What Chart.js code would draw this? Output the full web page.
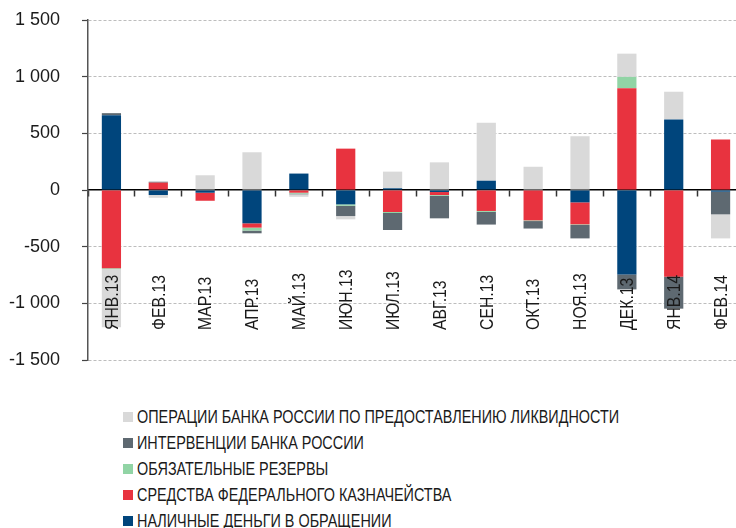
<!DOCTYPE html>
<html>
<head>
<meta charset="utf-8">
<script src="https://cdn.jsdelivr.net/npm/chart.js@4.4.0/dist/chart.umd.min.js"></script>
<style>
  body { margin: 0; background: #fff; overflow: hidden; width: 736px; height: 528px; position: relative; }
  #wrap { position: absolute; left: 0; top: 0; width: 744px; height: 380px; }
  #legend { position: absolute; left: 123px; top: 404px; margin: 0; padding: 0; list-style: none;
    font-family: 'Liberation Sans', Arial, sans-serif; font-size: 18px; color: #1a1a1a; }
  #legend li { height: 26px; display: flex; align-items: center; white-space: nowrap; }
  #legend .sw { display: inline-block; width: 10px; height: 10px; margin-right: 4px; flex: none; }
  #legend .tx { display: inline-block; transform: scaleX(0.8); transform-origin: 0 50%; }
</style>
</head>
<body>
<div id="wrap"><canvas id="flows"></canvas></div>
<ul id="legend"></ul>
<script>
var FONT = "'Liberation Sans', Arial, sans-serif";

var months = ['ЯНВ.13', 'ФЕВ.13', 'МАР.13', 'АПР.13', 'МАЙ.13', 'ИЮН.13', 'ИЮЛ.13',
              'АВГ.13', 'СЕН.13', 'ОКТ.13', 'НОЯ.13', 'ДЕК.13', 'ЯНВ.14', 'ФЕВ.14'];

// млрд руб.
var cash          = [660, -44, -24, -294, 145, -127, 15, -18, 82, 0, -109, -745, 623, -15];
var treasury      = [-691, 65, -71, -38, -24, 365, -194, -26, -185, -268, -194, 898, -765, 445];
var reserves      = [-8, 0, 0, -26, -8, -12, -9, -6, -8, -6, -6, 100, 0, 0];
var interventions = [18, 8, 0, -24, -6, -91, -150, -200, -112, -66, -118, -132, -282, -200];
var liquidity     = [-512, -25, 130, 333, -22, -29, 147, 244, 512, 205, 475, 205, 244, -212];

var yTicks = [-1500, -1000, -500, 0, 500, 1000, 1500];
var labelBase = -1235; // где начинаются подписи месяцев

function fmt(v) {
    var s = String(Math.abs(v)).replace(/\B(?=(\d{3})+(?!\d))/g, ' ');
    return (v < 0 ? '-' : '') + s;
}

var monthLabels = {
    id: 'monthLabels',
    afterDatasetsDraw: function (chart) {
        var ctx = chart.ctx, x = chart.scales.x, y = chart.scales.y;
        var yb = y.getPixelForValue(labelBase);
        ctx.save();
        ctx.font = '19px ' + FONT;
        ctx.fillStyle = '#1a1a1a';
        ctx.textAlign = 'left';
        ctx.textBaseline = 'middle';
        months.forEach(function (m, i) {
            ctx.save();
            ctx.translate(x.getPixelForValue(i), yb);
            ctx.rotate(-Math.PI / 2);
            ctx.scale(0.83, 1);
            ctx.fillText(m, 0, 1);
            ctx.restore();
        });
        ctx.restore();
    }
};

var flowData = {
    labels: months,
    datasets: [
        { label: 'НАЛИЧНЫЕ ДЕНЬГИ В ОБРАЩЕНИИ', data: cash, backgroundColor: '#00457c' },
        { label: 'СРЕДСТВА ФЕДЕРАЛЬНОГО КАЗНАЧЕЙСТВА', data: treasury, backgroundColor: '#e8333f' },
        { label: 'ОБЯЗАТЕЛЬНЫЕ РЕЗЕРВЫ', data: reserves, backgroundColor: '#91d4a5' },
        { label: 'ИНТЕРВЕНЦИИ БАНКА РОССИИ', data: interventions, backgroundColor: '#5e6971' },
        { label: 'ОПЕРАЦИИ БАНКА РОССИИ ПО ПРЕДОСТАВЛЕНИЮ ЛИКВИДНОСТИ', data: liquidity, backgroundColor: '#d9d9d9' }
    ]
};
flowData.datasets.forEach(function (d) {
    d.categoryPercentage = 1;
    d.barPercentage = 0.41;
});

new Chart(document.getElementById('flows'), {
    type: 'bar',
    data: flowData,
    plugins: [monthLabels],
    options: {
        responsive: true,
        maintainAspectRatio: false,
        animation: false,
        layout: { padding: { top: 20, bottom: 20, left: 0, right: 0 } },
        plugins: { legend: { display: false }, tooltip: { enabled: false } },
        scales: {
            x: {
                stacked: true,
                position: { y: 0 },
                offset: true,
                z: 1,
                ticks: { display: false },
                grid: { offset: true, drawOnChartArea: false, drawTicks: true, tickLength: 6, tickColor: '#333', tickWidth: 1.5 },
                border: { display: true, color: '#000', width: 1.5 }
            },
            y: {
                stacked: true,
                min: -1500,
                max: 1500,
                afterBuildTicks: function (s) { s.ticks = yTicks.map(function (v) { return { value: v }; }); },
                afterFit: function (s) { s.width = 88; s.paddingTop = 12; s.paddingBottom = 12; },
                ticks: { padding: 22, color: '#1a1a1a', font: { family: FONT, size: 18 }, callback: fmt },
                grid: {
                    color: function (c) { return c.tick && c.tick.value === 0 ? 'rgba(0,0,0,0)' : '#bdbdbd'; },
                    lineWidth: 1, tickLength: 6, tickColor: '#444', tickWidth: 1.2
                },
                border: { display: true, color: '#555', width: 1.5, dash: [3, 2] }
            }
        }
    }
});

var legend = document.getElementById('legend');
flowData.datasets.slice().reverse().forEach(function (d) {
    var li = document.createElement('li');
    var sw = document.createElement('span');
    sw.className = 'sw';
    sw.style.background = d.backgroundColor;
    var tx = document.createElement('span');
    tx.className = 'tx';
    tx.textContent = d.label;
    li.appendChild(sw);
    li.appendChild(tx);
    legend.appendChild(li);
});
</script>
</body>
</html>
